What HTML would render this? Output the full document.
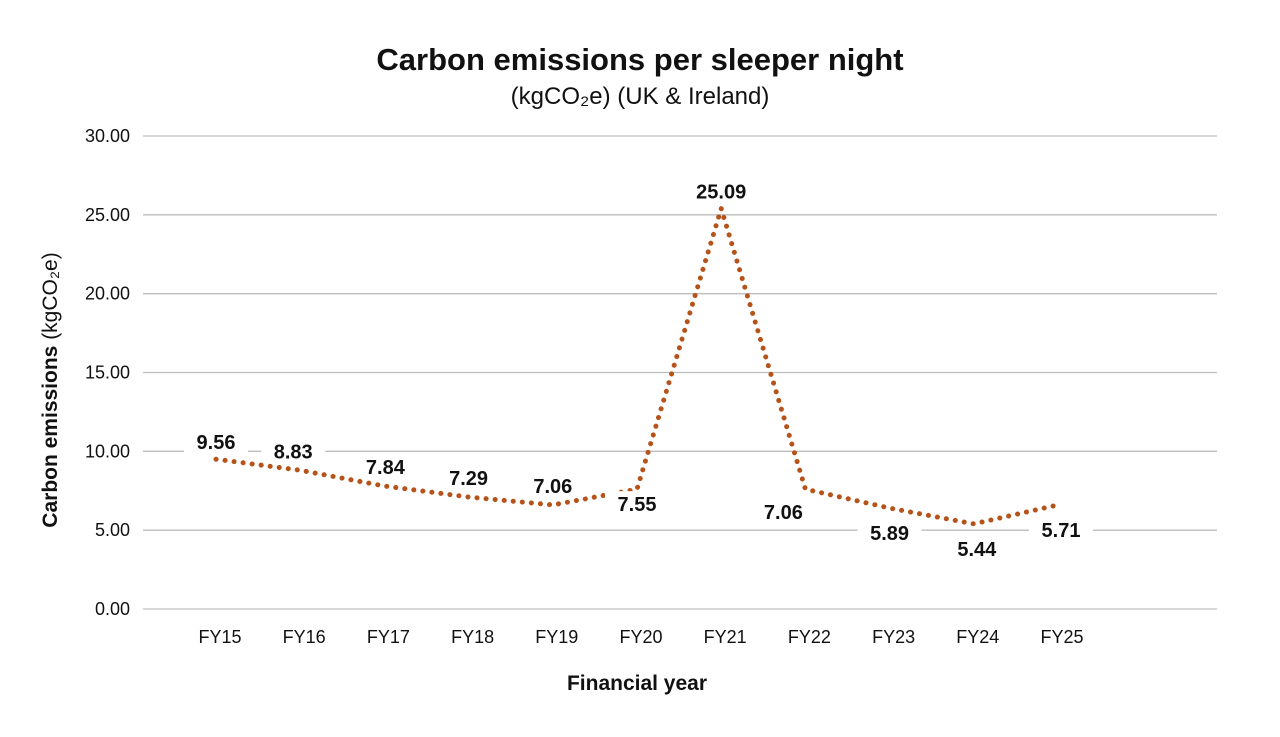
<!DOCTYPE html>
<html><head><meta charset="utf-8"><style>
body{margin:0;background:#fff;width:1280px;height:732px;overflow:hidden}
text{font-family:"Liberation Sans",sans-serif}
</style></head><body>
<svg id="chart" width="1280" height="732" xmlns="http://www.w3.org/2000/svg">
<text x="640" y="70" text-anchor="middle" font-size="31" font-weight="bold" fill="#111">Carbon emissions per sleeper night</text>
<text x="640" y="104" text-anchor="middle" font-size="24" fill="#111">(kgCO₂e)  (UK &amp; Ireland)</text>
<g id="grid"></g><g id="line"></g><g id="labels"></g>
<text x="637" y="690" text-anchor="middle" font-size="21" font-weight="bold" fill="#111">Financial year</text>
<text transform="translate(57,390) rotate(-90)" text-anchor="middle" font-size="21" fill="#111"><tspan font-weight="bold">Carbon emissions</tspan> (kgCO₂e)</text>
</svg>
<script>
const categories=["FY15","FY16","FY17","FY18","FY19","FY20","FY21","FY22","FY23","FY24","FY25"];
const values=[9.5,8.8,7.8,7.1,6.6,7.6,25.4,7.6,6.4,5.4,6.6];
const printed=["9.56","8.83","7.84","7.29","7.06","7.55","25.09","7.06","5.89","5.44","5.71"];
const yTicks=[0,5,10,15,20,25,30];
const labelDx=[0,-7,1,0,0,0,0,-22,0,3,3];
const labelDy=[-16,-18,-18,-18,-18,16,-16,24,26,26,26];
const NS="http://www.w3.org/2000/svg";
const y=v=>609-v*(473/30);
const x=i=>216+i*84.2;
function mk(t,a,p){const e=document.createElementNS(NS,t);for(const k in a)e.setAttribute(k,a[k]);p.appendChild(e);return e;}
const g=document.getElementById('grid');
yTicks.forEach(t=>{
 const l=mk('line',{x1:143,x2:1217,y1:y(t),y2:y(t),stroke:'#bdbdbd','stroke-width':1.3},g);
 
 
 const tx=mk('text',{x:130,y:y(t)+6,'text-anchor':'end','font-size':18,fill:'#111'},g);
 tx.textContent=t.toFixed(2);
 
 
});
categories.forEach((c,i)=>{
 const tx=mk('text',{x:x(i)+4,y:643,'text-anchor':'middle','font-size':18,fill:'#111'},g);
 tx.textContent=c;
 
 
});
const pts=values.map((v,i)=>x(i)+','+y(v)).join(' ');
const pl=mk('polyline',{points:pts,fill:'none',stroke:'#b5531a','stroke-width':5,'stroke-dasharray':'0.1 9','stroke-linecap':'round','stroke-linejoin':'round'},document.getElementById('line'));


const lg=document.getElementById('labels');
values.forEach((v,i)=>{
 const cx=x(i)+labelDx[i], cy=y(v)+labelDy[i];
 const r=mk('rect',{x:cx-32,y:cy-14,width:64,height:24,fill:'#fff'},lg);
 
 
 const tx=mk('text',{x:cx,y:cy+6,'text-anchor':'middle','font-size':20,'font-weight':'bold',fill:'#111'},lg);
 tx.textContent=printed[i];
 
 
});
</script>
</body></html>
